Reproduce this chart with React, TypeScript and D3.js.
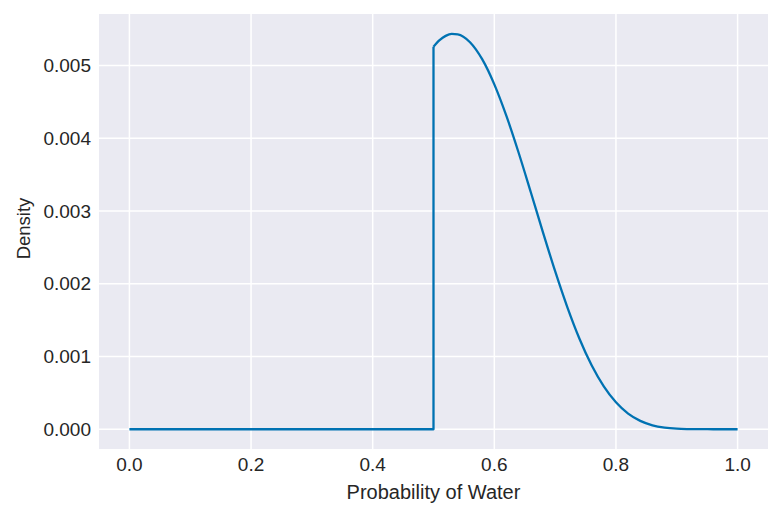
import React from "react";
import * as d3 from "d3";

const W = 782;
const H = 516;

// Flat part of the posterior (prior is zero below 0.5)
const flatP = [0.0, 0.5, 0.5];
const flatD = [0.0, 0.0, 0.005257];

// Curve part
const curveP = [0.5, 0.51, 0.52, 0.53, 0.54, 0.56, 0.58, 0.6, 0.62, 0.64, 0.66, 0.68, 0.7, 0.72, 0.74, 0.76, 0.78, 0.8, 0.82, 0.84, 0.86, 0.88, 0.9, 0.92, 0.94, 0.96, 0.98, 1.0];
const curveD = [0.005257, 0.005347, 0.005406, 0.005433, 0.005428, 0.005319, 0.005086, 0.00474, 0.004303, 0.0038, 0.003257, 0.002706, 0.002172, 0.001679, 0.001244, 0.000879, 0.000589, 0.00037, 0.000215, 0.000115, 0.000054, 0.000022, 0.000007, 0.000002, 0.0000003, 0.0, 0.0, 0.0];

const xTicks = [0.0, 0.2, 0.4, 0.6, 0.8, 1.0];
const yTicks = [0.0, 0.001, 0.002, 0.003, 0.004, 0.005];

const xLabel = "Probability of Water";
const yLabel = "Density";

export default function App() {
  const left = 99;
  const right = 768;
  const top = 14;
  const bottom = 449;

  const x = d3.scaleLinear().domain([-0.05, 1.05]).range([left, right]);
  const yMax = 0.005435;
  const pad = yMax * 0.05;
  const y = d3.scaleLinear().domain([-pad, yMax + pad]).range([bottom, top]);

  const flatPts: [number, number][] = flatP.map((p, i) => [p, flatD[i]]);
  const curvePts: [number, number][] = curveP.map((p, i) => [p, curveD[i]]);

  const linear = d3
    .line<[number, number]>()
    .x((d) => x(d[0]))
    .y((d) => y(d[1]));
  const smooth = d3
    .line<[number, number]>()
    .x((d) => x(d[0]))
    .y((d) => y(d[1]))
    .curve(d3.curveMonotoneX);

  const font = "Arial, 'Liberation Sans', sans-serif";
  const textColor = "#262626";
  const fmtX = d3.format(".1f");
  const fmtY = d3.format(".3f");

  return (
    <svg
      width={W}
      height={H}
      style={{ position: "absolute", left: 0, top: 0, display: "block", background: "#ffffff" }}
    >
      <rect x={left} y={top} width={right - left} height={bottom - top} fill="#EAEAF2" />
      {xTicks.map((t) => (
        <line key={"gx" + t} x1={x(t)} x2={x(t)} y1={top} y2={bottom} stroke="#ffffff" strokeWidth={1.5} />
      ))}
      {yTicks.map((t) => (
        <line key={"gy" + t} x1={left} x2={right} y1={y(t)} y2={y(t)} stroke="#ffffff" strokeWidth={1.5} />
      ))}
      <path d={linear(flatPts) || ""} fill="none" stroke="#0072B2" strokeWidth={2.3} strokeLinejoin="round" />
      <path d={smooth(curvePts) || ""} fill="none" stroke="#0072B2" strokeWidth={2.3} strokeLinejoin="round" />
      {xTicks.map((t) => (
        <text
          key={"tx" + t}
          x={x(t)}
          y={470.5}
          textAnchor="middle"
          fontFamily={font}
          fontSize={19}
          fill={textColor}
        >
          {fmtX(t)}
        </text>
      ))}
      {yTicks.map((t) => (
        <text
          key={"ty" + t}
          x={91}
          y={y(t)}
          dy="0.35em"
          textAnchor="end"
          fontFamily={font}
          fontSize={19}
          fill={textColor}
        >
          {fmtY(t)}
        </text>
      ))}
      <text
        x={(left + right) / 2}
        y={499}
        textAnchor="middle"
        fontFamily={font}
        fontSize={20}
        fill={textColor}
      >
        {xLabel}
      </text>
      <text
        transform={`translate(30, ${(top + bottom) / 2 - 3}) rotate(-90)`}
        textAnchor="middle"
        fontFamily={font}
        fontSize={18.5}
        fill={textColor}
      >
        {yLabel}
      </text>
    </svg>
  );
}
